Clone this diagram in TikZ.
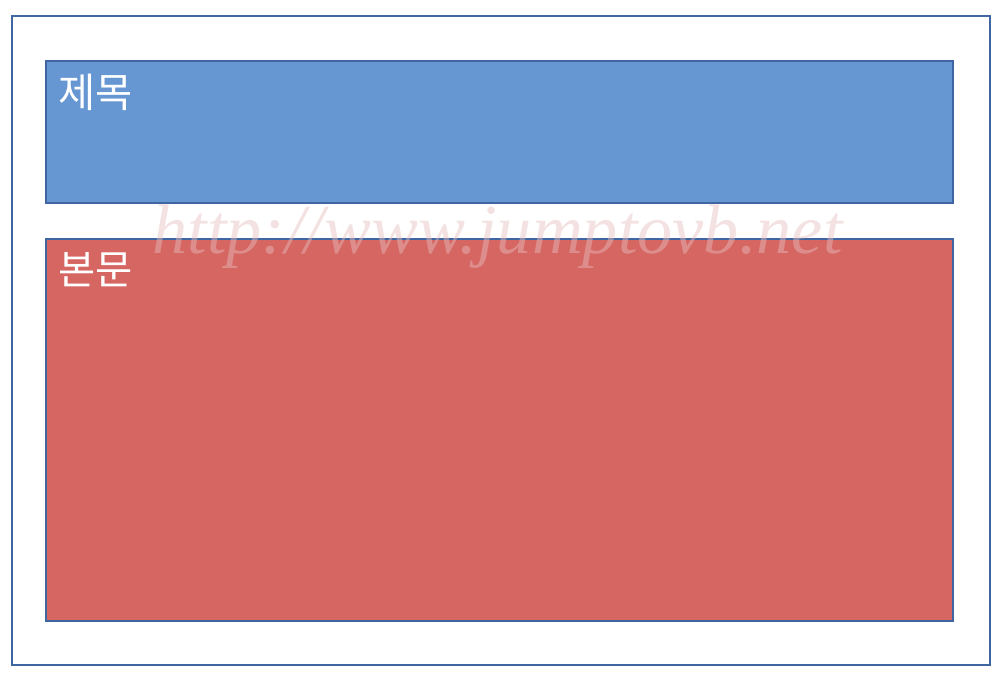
\documentclass[tikz,border=0pt]{standalone}
\usepackage{fontspec}
\newfontfamily\krfont{Noto Sans CJK KR}
\newfontfamily\markfont{Liberation Serif}
\definecolor{frameblue}{RGB}{63,102,160}
\definecolor{titleblue}{RGB}{102,151,210}
\definecolor{bodyred}{RGB}{214,102,98}
\definecolor{markpink}{RGB}{230,190,190}
\tikzset{
    panel/.style = {draw = frameblue, line width = 1.2pt, rectangle, inner sep = 0pt},
    caption/.style = {anchor = north west, text = white, inner sep = 0pt,
        font = \krfont\fontsize{23}{26}\selectfont}
}

\begin{document}
\begin{tikzpicture}
    \useasboundingbox (0, 0) rectangle (20, 13.64);

    \node[panel, minimum width = 19.56cm, minimum height = 12.98cm] (page) at (10.02, 6.83) {};
    \node[panel, fill = titleblue, minimum width = 18.14cm, minimum height = 2.84cm] (title) at (9.99, 11.0) {};
    \node[panel, fill = bodyred, minimum width = 18.14cm, minimum height = 7.64cm] (body) at (9.99, 5.04) {};

    \node[caption] (titletext) at ([shift = {(0.26, -0.28)}] title.north west) {제목};
    \node[caption] (bodytext) at ([shift = {(0.26, -0.28)}] body.north west) {본문};

    % watermark
    \node[text = markpink, text opacity = 0.45, font = \markfont\itshape\fontsize{40}{44}\selectfont] (mark) at (9.95, 8.9) {http://www.jumptovb.net};
\end{tikzpicture}
\end{document}
